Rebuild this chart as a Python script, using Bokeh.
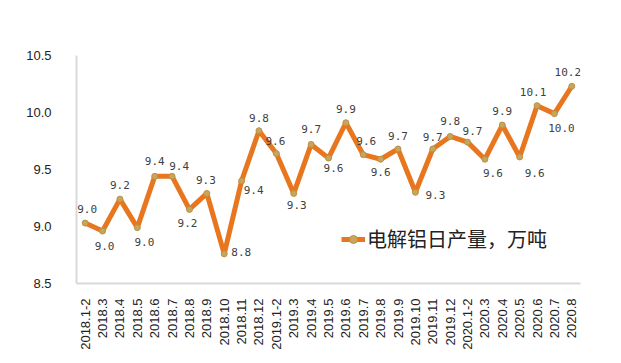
from bokeh.plotting import figure
from bokeh.models import ColumnDataSource, FixedTicker, PrintfTickFormatter, Legend, LegendItem, Range1d, FactorRange, LabelSet
from bokeh.core.properties import value
from bokeh.embed import file_html
from bokeh.resources import INLINE
import math

months = ["2018.1-2", "2018.3", "2018.4", "2018.5", "2018.6", "2018.7", "2018.8", "2018.9",
          "2018.10", "2018.11", "2018.12", "2019.1-2", "2019.3", "2019.4", "2019.5", "2019.6",
          "2019.7", "2019.8", "2019.9", "2019.10", "2019.11", "2019.12", "2020.1-2", "2020.3",
          "2020.4", "2020.5", "2020.6", "2020.7", "2020.8"]
output = [9.03, 8.96, 9.24, 8.99, 9.44, 9.44, 9.15, 9.29, 8.76, 9.40, 9.84, 9.64, 9.29, 9.72,
          9.60, 9.91, 9.63, 9.59, 9.68, 9.30, 9.68, 9.79, 9.74, 9.59, 9.89, 9.61, 10.06, 9.99, 10.23]
y_ticks = [8.5, 9.0, 9.5, 10.0, 10.5]
series_name = "电解铝日产量，万吨"

# label placement offsets (screen px, +up), style only
label_dx = [2, 2, 0, 7, 0, 7, -2, -1, 17, 12, 0, -1, 3, 0, 5, 0, 3, 0, 0, 20, 0, 0, 5, 8, 0, 15, -4, 7, -4]
label_dy = [14, -15, 14, -14, 15, 10, -14, 13, 2, -9, 13, 13, -12, 15, -10, 14, 14, -13, 13, -3, 12, 15, 11, -14, 14, -16, 14, -14, 14]

src = ColumnDataSource(dict(
    x=months, y=output, lab=[f"{round(v, 1):.1f}" for v in output], dx=label_dx, dy=label_dy))

p = figure(width=613, height=355, x_range=FactorRange(*months, range_padding=0),
           y_range=Range1d(8.5, 10.5), output_backend="svg", toolbar_location=None,
           min_border_left=76, min_border_right=33, min_border_top=55, min_border_bottom=72,
           background_fill_color="white", border_fill_color="white")
p.outline_line_color = None
p.xgrid.grid_line_color = None
p.ygrid.grid_line_color = None

r_line = p.line("x", "y", source=src, line_color="#E8761E", line_width=5, line_join="round")
r_pt = p.scatter("x", "y", source=src, size=6, fill_color="#C9A55A", line_color="#B8934A", line_width=1)
labels = LabelSet(x="x", y="y", text="lab", source=src, x_offset="dx", y_offset="dy",
                  text_font=value("DejaVu Sans Mono"), text_font_size=value("11px"),
                  text_color=value("#404040"),
                  text_align="center", text_baseline="middle")
p.add_layout(labels)

p.yaxis.ticker = FixedTicker(ticks=y_ticks)
p.yaxis.formatter = PrintfTickFormatter(format="%.1f")
p.yaxis.major_tick_line_color = None
p.yaxis.minor_tick_line_color = None
p.yaxis.axis_line_color = "#D9D9D9"
p.yaxis.axis_line_width = 2
p.yaxis.major_label_text_font = "Liberation Sans"
p.yaxis.major_label_text_font_size = "13px"
p.yaxis.major_label_text_color = "#222222"
p.yaxis.major_label_standoff = 19

p.xaxis.major_tick_line_color = None
p.xaxis.minor_tick_line_color = None
p.xaxis.axis_line_color = "#D9D9D9"
p.xaxis.axis_line_width = 2
p.xaxis.major_label_orientation = math.pi / 2
p.xaxis.major_label_text_font = "Liberation Sans"
p.xaxis.major_label_text_font_size = "13px"
p.xaxis.major_label_text_color = "#222222"
p.xaxis.major_label_standoff = 9

legend = Legend(items=[LegendItem(label=series_name, renderers=[r_line, r_pt])],
                location=(265, 30), border_line_color=None, background_fill_alpha=0,
                padding=0, margin=0, glyph_width=24, glyph_height=20, label_standoff=2,
                label_text_font="Noto Sans CJK SC", label_text_font_size="20px",
                label_text_color="#222222")
p.add_layout(legend)

open("out.html", "w").write(file_html(p, INLINE))
